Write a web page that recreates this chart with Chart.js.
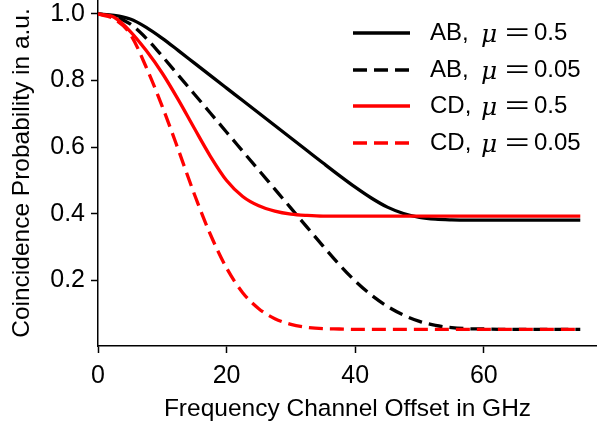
<!DOCTYPE html>
<html><head><meta charset="utf-8">
<script src="https://cdn.jsdelivr.net/npm/chart.js@4.4.1/dist/chart.umd.min.js"></script>
<style>html,body{margin:0;padding:0;background:#fff;} #wrap{width:597px;height:429px;}</style>
</head><body><div id="wrap"><canvas id="c" width="597" height="429"></canvas></div>
<script>
// Frequency channel offset in GHz
const xValues = [0,2.5,5,7.5,10,12.5,15,17.5,20,22.5,25,27.5,30,32.5,35,37.5,40,42.5,45,47.5,50,52.5,55,57.5,60,62.5,65,67.5,70,72.5,75];
const seriesLabels = ["AB, μ = 0.5", "AB, μ = 0.05", "CD, μ = 0.5", "CD, μ = 0.05"];
const abMu05  = [1.0,0.996,0.985,0.96,0.927,0.890,0.8525,0.815,0.7775,0.74,0.7025,0.665,0.6275,0.59,0.5525,0.5155,0.480,0.4475,0.420,0.401,0.3895,0.3838,0.3817,0.381,0.381,0.381,0.381,0.381,0.381,0.381,0.381];
const abMu005 = [1.0,0.992,0.97,0.927,0.873,0.816,0.759,0.702,0.645,0.588,0.531,0.474,0.417,0.36,0.303,0.248,0.198,0.156,0.122,0.096,0.077,0.065,0.058,0.055,0.054,0.053,0.053,0.053,0.053,0.053,0.053];
const cdMu05  = [1.0,0.99,0.948,0.89,0.822,0.742,0.656,0.572,0.50,0.452,0.424,0.408,0.399,0.395,0.393,0.393,0.393,0.393,0.393,0.393,0.393,0.393,0.393,0.393,0.393,0.393,0.393,0.393,0.393,0.393,0.393];
const cdMu005 = [1.0,0.985,0.94,0.84,0.722,0.592,0.458,0.337,0.237,0.163,0.115,0.085,0.068,0.059,0.055,0.054,0.053,0.053,0.053,0.053,0.053,0.053,0.053,0.053,0.053,0.053,0.053,0.053,0.053,0.053,0.053];
const xTicks = [0,20,40,60];
const yTicks = [0.2,0.4,0.6,0.8,1.0];
const xTitle = "Frequency Channel Offset in GHz";
const yTitle = "Coincidence Probability in a.u.";

const FONT = "'Liberation Sans', Arial, sans-serif";
const LW = 3.3;
const DASH = [14, 7];
const pts = arr => arr.map((y,i)=>({x:xValues[i], y}));
const mk = (label, arr, color, dashed, order) => ({
  label, data: pts(arr), borderColor: color, backgroundColor: color,
  borderWidth: LW, borderDash: dashed ? DASH : [], pointRadius: 0,
  cubicInterpolationMode: 'monotone', fill: false, order, borderCapStyle: 'butt'
});

const legendPlugin = {
  id: 'customLegend',
  afterDraw(chart) {
    const ctx = chart.ctx;
    const rows = [33, 70, 106, 143];
    chart.data.datasets.forEach((ds, i) => {
      const y = rows[i];
      ctx.save();
      ctx.strokeStyle = ds.borderColor; ctx.lineWidth = LW;
      ctx.setLineDash(ds.borderDash); ctx.lineCap = 'butt';
      ctx.beginPath(); ctx.moveTo(353, y); ctx.lineTo(410, y); ctx.stroke();
      ctx.setLineDash([]);
      ctx.fillStyle = '#000'; ctx.textBaseline = 'middle'; ctx.textAlign = 'left';
      // label "AB, μ = 0.5" -> name, symbol, value
      const [name, rest] = ds.label.split('μ');
      const value = rest.split('=')[1].trim();
      ctx.font = "24px " + FONT;
      ctx.fillText(name.trim(), 430, y);
      ctx.font = "italic 25px 'DejaVu Serif', 'Liberation Serif', serif";
      ctx.fillText('μ', 481, y + 2);
      ctx.save();
      ctx.translate(505, y);
      ctx.scale(1.75, 1);
      ctx.font = "24px " + FONT;
      ctx.fillText('=', 0, 0);
      ctx.restore();
      ctx.font = "24px " + FONT;
      ctx.fillText(value, 534, y);
      ctx.restore();
    });
  }
};

new Chart(document.getElementById('c'), {
  type: 'line',
  data: { datasets: [
    mk(seriesLabels[0], abMu05, '#000000', false, 4),
    mk(seriesLabels[1], abMu005, '#000000', true, 3),
    mk(seriesLabels[2], cdMu05, '#ff0000', false, 2),
    mk(seriesLabels[3], cdMu005, '#ff0000', true, 1)
  ]},
  options: {
    responsive: false, animation: false, devicePixelRatio: 1,
    layout: { padding: 0 },
    plugins: { legend: { display: false }, tooltip: { enabled: false } },
    scales: {
      x: {
        type: 'linear', min: 0, max: 77.6,
        afterBuildTicks: s => { s.ticks = xTicks.map(v => ({value: v})); },
        afterFit: s => { s.height = 83; s.paddingLeft = 0; s.paddingRight = 0; },
        grid: { display: true, drawOnChartArea: false, drawTicks: true, tickLength: 7, color: '#000', tickWidth: 1.5 },
        border: { display: true, color: '#000', width: 1.5 },
        ticks: { color: '#000', font: { family: FONT, size: 25 }, padding: 8, maxRotation: 0 },
        title: { display: true, text: xTitle, color: '#000', font: { family: FONT, size: 24.5 }, padding: { top: 0, bottom: 5 } }
      },
      y: {
        type: 'linear', min: 0.003, max: 1.042,
        afterBuildTicks: s => { s.ticks = yTicks.map(v => ({value: v})); },
        afterFit: s => { s.width = 98; s.paddingTop = 0; s.paddingBottom = 0; },
        grid: { display: true, drawOnChartArea: false, drawTicks: true, tickLength: 7, color: '#000', tickWidth: 1.5 },
        border: { display: true, color: '#000', width: 1.5 },
        ticks: { color: '#000', font: { family: FONT, size: 25 }, padding: 6, callback: v => v.toFixed(1) },
        title: { display: true, text: yTitle, color: '#000', font: { family: FONT, size: 24.5 }, padding: { top: 8, bottom: 0 } }
      }
    }
  },
  plugins: [legendPlugin]
});
</script></body></html>
